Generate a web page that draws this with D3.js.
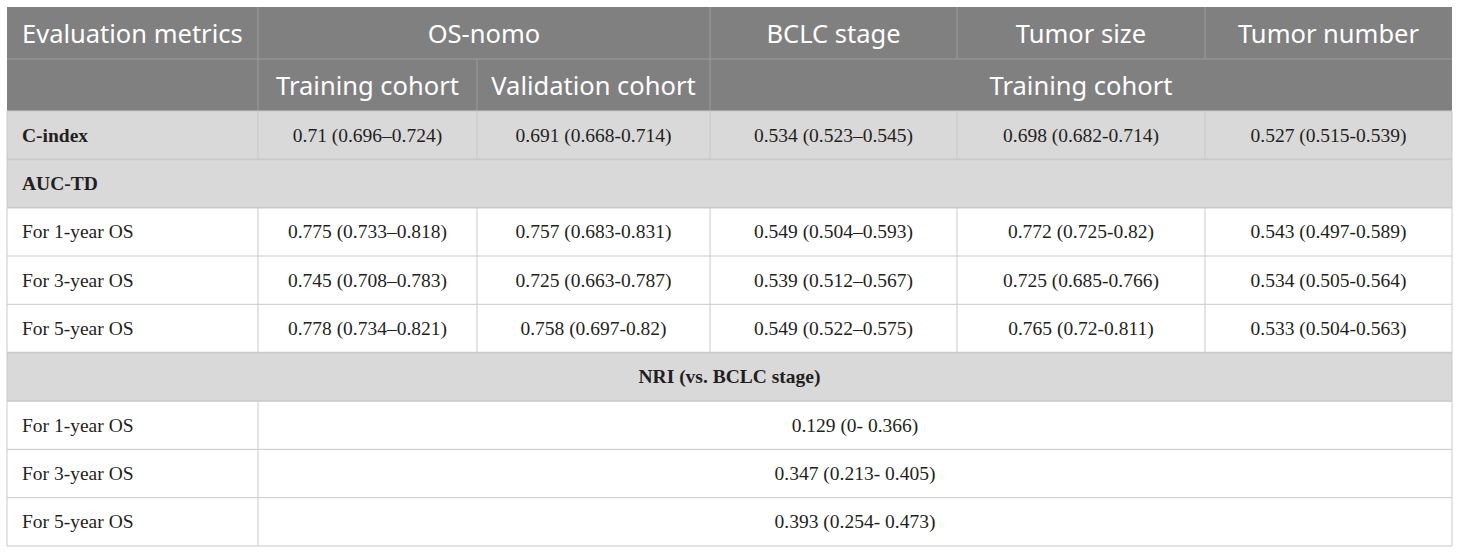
<!DOCTYPE html>
<html>
<head>
<meta charset="utf-8">
<script src="https://cdn.jsdelivr.net/npm/d3@7"></script>
<style>
  body { margin: 0; background: #fff; }
  svg { display: block; }
</style>
</head>
<body>
<div id="table"></div>
<script>
// table content
const columns = ['Evaluation metrics', 'OS-nomo', 'BCLC stage', 'Tumor size', 'Tumor number'];
const subHeaders = ['Training cohort', 'Validation cohort', 'Training cohort'];
const rowLabels = ['C-index', 'AUC-TD', 'For 1-year OS', 'For 3-year OS', 'For 5-year OS',
                   'NRI (vs. BCLC stage)', 'For 1-year OS', 'For 3-year OS', 'For 5-year OS'];
const cIndex = ['0.71 (0.696–0.724)', '0.691 (0.668-0.714)', '0.534 (0.523–0.545)', '0.698 (0.682-0.714)', '0.527 (0.515-0.539)'];
const auc1 = ['0.775 (0.733–0.818)', '0.757 (0.683-0.831)', '0.549 (0.504–0.593)', '0.772 (0.725-0.82)', '0.543 (0.497-0.589)'];
const auc3 = ['0.745 (0.708–0.783)', '0.725 (0.663-0.787)', '0.539 (0.512–0.567)', '0.725 (0.685-0.766)', '0.534 (0.505-0.564)'];
const auc5 = ['0.778 (0.734–0.821)', '0.758 (0.697-0.82)', '0.549 (0.522–0.575)', '0.765 (0.72-0.811)', '0.533 (0.504-0.563)'];
const nri = ['0.129 (0- 0.366)', '0.347 (0.213- 0.405)', '0.393 (0.254- 0.473)'];

// layout
const width = 1460, height = 554;
const colEdges = [7, 258, 477, 710, 957, 1205, 1452];
const tableTop = 7, headH = 52, tableBottom = 546;
const headFont = "'Noto Sans', sans-serif";
const bodyFont = "'Liberation Serif', 'Times New Roman', serif";

const svg = d3.select('#table')
    .append('svg')
    .attr('width', width)
    .attr('height', height);

const y = d3.scaleBand()
    .domain(d3.range(rowLabels.length))
    .range([tableTop + 2 * headH, tableBottom]);

const colX = i => colEdges[i];
const colMid = (a, b) => (colEdges[a] + colEdges[b]) / 2;

// header background
svg.append('rect')
    .attr('x', colEdges[0]).attr('y', tableTop)
    .attr('width', colEdges[6] - colEdges[0]).attr('height', 2 * headH)
    .attr('fill', '#7f807f');

// section rows (grey)
const sectionRows = [0, 1, 5];
svg.selectAll('.sect')
    .data(sectionRows)
    .enter().append('rect')
    .attr('class', 'sect')
    .attr('x', colEdges[0]).attr('y', d => y(d))
    .attr('width', colEdges[6] - colEdges[0]).attr('height', y.bandwidth())
    .attr('fill', '#d9d9d9');

// header grid lines
const hl = '#9c9d9c';
svg.append('line')
    .attr('x1', colEdges[0]).attr('x2', colEdges[6])
    .attr('y1', tableTop + headH).attr('y2', tableTop + headH)
    .attr('stroke', hl);
// vertical header lines: row 1 at 1,3,4,5 ; row 2 at 1,2,3
[[1, 0], [3, 0], [4, 0], [5, 0], [1, 1], [2, 1], [3, 1]].forEach(([c, r]) => {
    svg.append('line')
        .attr('x1', colX(c)).attr('x2', colX(c))
        .attr('y1', tableTop + r * headH).attr('y2', tableTop + (r + 1) * headH)
        .attr('stroke', hl);
});

// body grid lines
const gl = '#c9c9c9';
const g = svg.append('g').attr('stroke', gl).attr('fill', 'none');
d3.range(rowLabels.length + 1).forEach(i => {
    const yy = i < rowLabels.length ? y(i) : tableBottom;
    g.append('line')
        .attr('x1', colEdges[0]).attr('x2', colEdges[6])
        .attr('y1', yy).attr('y2', yy)
        .attr('stroke-width', (i === 1 || i === 2 || i === 5 || i === 6) ? 1.6 : 1);
});
// verticals
rowLabels.forEach((lab, i) => {
    let cuts;
    if (i === 1 || i === 5) cuts = [];
    else if (i > 5) cuts = [1];
    else cuts = [1, 2, 3, 4, 5];
    cuts.forEach(c => {
        g.append('line')
            .attr('x1', colX(c)).attr('x2', colX(c))
            .attr('y1', y(i)).attr('y2', y(i) + y.bandwidth());
    });
});
g.append('line').attr('x1', colEdges[0]).attr('x2', colEdges[0]).attr('y1', tableTop + 2 * headH).attr('y2', tableBottom);
g.append('line').attr('x1', colEdges[6]).attr('x2', colEdges[6]).attr('y1', tableTop + 2 * headH).attr('y2', tableBottom);

// header text
const ht = svg.append('g')
    .attr('fill', '#fff')
    .attr('font-family', headFont)
    .attr('font-size', 25.5)
    .attr('dominant-baseline', 'central');

ht.append('text').attr('x', colEdges[0] + 15).attr('y', tableTop + headH / 2).text(columns[0]);
ht.append('text').attr('x', colMid(1, 3)).attr('y', tableTop + headH / 2).attr('text-anchor', 'middle').text(columns[1]);
[2, 3, 4].forEach(k => {
    ht.append('text').attr('x', colMid(k + 1, k + 2)).attr('y', tableTop + headH / 2)
        .attr('text-anchor', 'middle').text(columns[k]);
});
const subPos = [[1, 2], [2, 3], [3, 6]];
subHeaders.forEach((s, k) => {
    ht.append('text').attr('x', colMid(subPos[k][0], subPos[k][1])).attr('y', tableTop + 1.5 * headH)
        .attr('text-anchor', 'middle').text(s);
});

// body text
const bt = svg.append('g')
    .attr('fill', '#231f20')
    .attr('font-family', bodyFont)
    .attr('font-size', 19.5)
    .attr('dominant-baseline', 'central');

rowLabels.forEach((lab, i) => {
    const cy = y(i) + y.bandwidth() / 2;
    if (i === 5) {
        bt.append('text').attr('x', colMid(0, 6)).attr('y', cy).attr('text-anchor', 'middle')
            .attr('font-weight', 'bold').text(lab);
    } else {
        bt.append('text').attr('x', colEdges[0] + 15).attr('y', cy)
            .attr('font-weight', (i === 0 || i === 1) ? 'bold' : 'normal').text(lab);
    }
});

const aucRows = [[0, cIndex], [2, auc1], [3, auc3], [4, auc5]];
aucRows.forEach(([r, vals]) => {
    bt.selectAll(null)
        .data(vals)
        .enter().append('text')
        .attr('x', (d, j) => colMid(j + 1, j + 2))
        .attr('y', y(r) + y.bandwidth() / 2)
        .attr('text-anchor', 'middle')
        .text(d => d);
});

bt.selectAll(null)
    .data(nri)
    .enter().append('text')
    .attr('x', colMid(1, 6))
    .attr('y', (d, j) => y(6 + j) + y.bandwidth() / 2)
    .attr('text-anchor', 'middle')
    .text(d => d);
</script>
</body>
</html>
